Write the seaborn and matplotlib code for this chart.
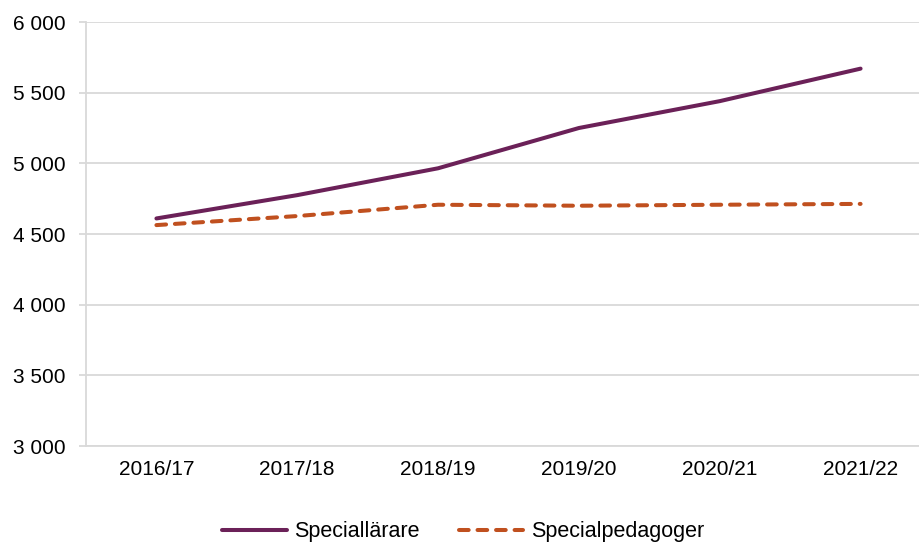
import pandas as pd
import seaborn as sns
import matplotlib.pyplot as plt
from matplotlib.ticker import FuncFormatter

## Data
years = ["2016/17", "2017/18", "2018/19", "2019/20", "2020/21", "2021/22"]
speciallarare = [4610, 4775, 4965, 5250, 5440, 5670]
specialpedagoger = [4563, 4627, 4707, 4700, 4707, 4713]

df = pd.DataFrame({"year": years * 2,
                   "value": speciallarare + specialpedagoger,
                   "series": ["Speciallärare"] * 6 + ["Specialpedagoger"] * 6})

sns.set_theme(style="white")
plt.rcParams['font.family'] = ['Liberation Sans', 'DejaVu Sans']
plt.rcParams['text.color'] = 'black'
plt.rcParams['xtick.labelcolor'] = 'black'
plt.rcParams['ytick.labelcolor'] = 'black'
plt.rcParams['lines.dash_capstyle'] = 'round'

fig = plt.figure(figsize=(9.19, 5.45), dpi=100)
ax = fig.add_axes([86 / 919, 1 - 446 / 545, 845 / 919, 424 / 545])

palette = {"Speciallärare": "#6B2158", "Specialpedagoger": "#C0501F"}
sns.lineplot(data=df, x="year", y="value", hue="series", style="series",
             palette=palette, dashes={"Speciallärare": "", "Specialpedagoger": (2.4, 2.2)},
             linewidth=2.9, sort=False, ax=ax, legend=True)

ax.set_xlim(-0.5, 5.5)
ax.set_ylim(3000, 6000)
ax.set_yticks(range(3000, 6001, 500))
ax.yaxis.set_major_formatter(FuncFormatter(lambda v, p: f"{int(v):,}".replace(",", " ")))
ax.grid(axis="y", color="#D9D9D9", linewidth=1.3)
ax.set_axisbelow(True)
for s in ["top", "right"]:
    ax.spines[s].set_visible(False)
ax.spines["left"].set_color("#D9D9D9")
ax.spines["bottom"].set_color("#D9D9D9")
ax.spines["left"].set_linewidth(1.3)
ax.spines["bottom"].set_linewidth(1.3)
ax.tick_params(axis="y", left=True, length=5, width=1.3, color="#D9D9D9", labelsize=15, pad=10)
ax.tick_params(axis="x", bottom=False, labelsize=15, pad=4)
ax.set_xlabel(None)
ax.set_ylabel(None)

handles, labels = ax.get_legend_handles_labels()
leg = ax.legend(handles, labels, loc="center", bbox_to_anchor=(463 / 919, 1 - 532 / 545),
                bbox_transform=fig.transFigure, ncol=2, frameon=False, fontsize=15.5,
                handlelength=3.0, columnspacing=1.8, handletextpad=0.35)

fig.savefig("out.png", dpi=100)
